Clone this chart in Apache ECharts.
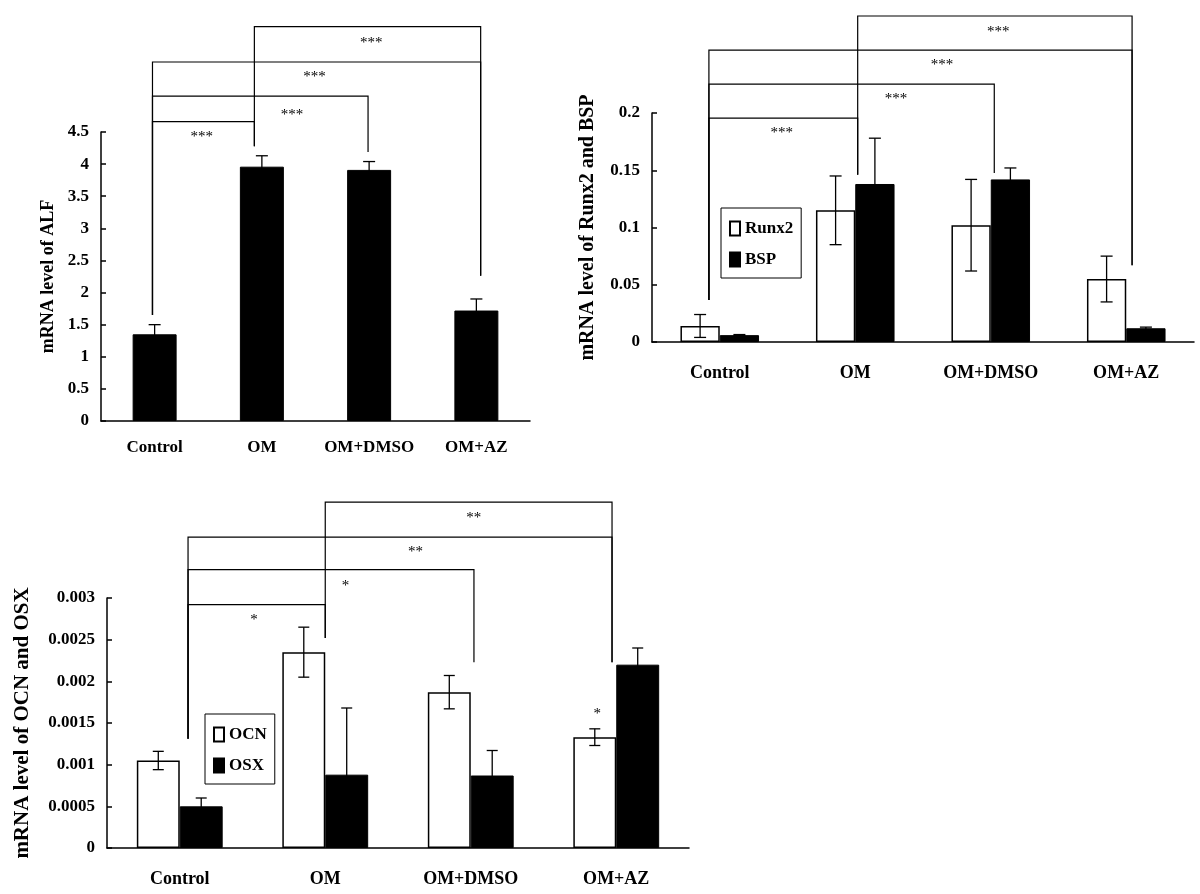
<!DOCTYPE html>
<html>
<head>
<meta charset="utf-8">
<script src="https://cdn.jsdelivr.net/npm/echarts@6/dist/echarts.min.js"></script>
<style>
html,body{margin:0;padding:0;background:#fff;}
#chart{width:1200px;height:894px;}
</style>
</head>
<body>
<div id="chart"></div>
<script>
// ---------- DATA ----------
const categories = ['Control', 'OM', 'OM+DMSO', 'OM+AZ'];

// Panel A: ALF
const alfValues = [1.35, 3.96, 3.91, 1.72];
const alfErrors = [0.15, 0.17, 0.13, 0.18];
const alfTicks = [0, 0.5, 1, 1.5, 2, 2.5, 3, 3.5, 4, 4.5];

// Panel B: Runx2 / BSP
const runx2Values = [0.014, 0.115, 0.102, 0.055];
const runx2Errors = [0.010, 0.030, 0.040, 0.020];
const bspValues = [0.006, 0.138, 0.142, 0.012];
const bspErrors = [0.0005, 0.040, 0.010, 0.001];
const runxTicks = [0, 0.05, 0.1, 0.15, 0.2];

// Panel C: OCN / OSX
const ocnValues = [0.00105, 0.00235, 0.00187, 0.00133];
const ocnErrors = [0.00011, 0.0003, 0.0002, 0.0001];
const osxValues = [0.0005, 0.00088, 0.00087, 0.0022];
const osxErrors = [0.0001, 0.0008, 0.0003, 0.0002];
const ocnTicks = [0, 0.0005, 0.001, 0.0015, 0.002, 0.0025, 0.003];

// Significance brackets (category index from/to, bracket level in data units)
const alfSigFrom = [1, 0, 0, 0];
const alfSigTo = [3, 3, 2, 1];
const alfSigLevel = [6.14, 5.59, 5.06, 4.66];
const alfDrop = [1.65, 4.28, 4.19, 2.26];
const alfMarks = ['***', '***', '***', '***'];
const alfMarkPos = [2.02, 1.49, 1.28, 0.44];
const alfMarkLevel = [5.89, 5.36, 4.77, 4.42];

const runxSigFrom = [1, 0, 0, 0];
const runxSigTo = [3, 3, 2, 1];
const runxSigLevel = [0.2847, 0.255, 0.2253, 0.1956];
const runxDrop = [0.0367, 0.146, 0.1476, 0.067];
const runxMarks = ['***', '***', '***', '***'];
const runxMarkPos = [2.056, 1.64, 1.30, 0.457];
const runxMarkLevel = [0.2707, 0.2419, 0.2122, 0.1825];

const ocnSigFrom = [1, 0, 0, 0];
const ocnSigTo = [3, 3, 2, 1];
const ocnSigLevel = [0.00415, 0.00373, 0.00334, 0.00292];
const ocnDrop = [0.00131, 0.00252, 0.00223, 0.00223];
const ocnMarks = ['**', '**', '*', '*', '*'];
const ocnMarkPos = [2.02, 1.62, 1.14, 0.51, 2.87];
const ocnMarkLevel = [0.00396, 0.00355, 0.00314, 0.00274, 0.00161];

// ---------- STYLE / LAYOUT ----------
const FONT = "'Liberation Serif', 'Times New Roman', serif";
const alfBracketOffset = [-0.02, -0.07, -0.01, 0.04];
const runxBracketOffset = [-0.08, 0.018, 0.026, 0.043];
const ocnBracketOffset = [0.057, 0, 0.022, -0.029];

function fmt(v) { return String(+(+v).toFixed(5)); }

function makeAxes(gridIndex, ticks, name, nameGap, nameSize, labelFont, catFont, labelMargin, catMargin) {
  const x = {
    type: 'category', gridIndex: gridIndex, data: categories,
    axisLine: { lineStyle: { color: '#000', width: 1.5 } },
    axisTick: { inside: true, length: 5, lineStyle: { color: '#000', width: 1.5 } },
    axisLabel: { interval: 0, color: '#000', fontFamily: FONT, fontWeight: 'bold', fontSize: catFont, margin: catMargin },
    splitLine: { show: false }
  };
  const step = ticks[1] - ticks[0];
  const y = {
    type: 'value', gridIndex: gridIndex, min: ticks[0], max: ticks[ticks.length - 1], interval: step,
    name: name, nameLocation: 'middle', nameRotate: 90, nameGap: nameGap,
    nameTextStyle: { color: '#000', fontFamily: FONT, fontWeight: 'bold', fontSize: nameSize },
    axisLine: { show: true, lineStyle: { color: '#000', width: 1.5 } },
    axisTick: { show: true, inside: true, length: 5, lineStyle: { color: '#000', width: 1.5 } },
    axisLabel: { color: '#000', fontFamily: FONT, fontWeight: 'bold', fontSize: labelFont, margin: labelMargin,
      formatter: function (v) { return fmt(v); } },
    splitLine: { show: false }
  };
  return { x: x, y: y };
}

function errorSeries(name, idx, values, errors, shift, cap) {
  return {
    type: 'custom', name: name, xAxisIndex: idx, yAxisIndex: idx, clip: false, z: 5,
    data: values.map(function (v, i) { return [i, v, v - errors[i], v + errors[i]]; }),
    renderItem: function (params, api) {
      const i = api.value(0);
      const band = api.size([1, 0])[0];
      const top = api.coord([i, api.value(3)]);
      const bot = api.coord([i, api.value(2)]);
      const x = top[0] + shift * band;
      const st = { stroke: '#000', lineWidth: 1.3 };
      return { type: 'group', children: [
        { type: 'line', shape: { x1: x, y1: top[1], x2: x, y2: bot[1] }, style: st },
        { type: 'line', shape: { x1: x - cap / 2, y1: top[1], x2: x + cap / 2, y2: top[1] }, style: st },
        { type: 'line', shape: { x1: x - cap / 2, y1: bot[1], x2: x + cap / 2, y2: bot[1] }, style: st }
      ] };
    }
  };
}

function bracketSeries(name, idx, from, to, level, drop, offset) {
  return {
    type: 'custom', name: name, xAxisIndex: idx, yAxisIndex: idx, clip: false, z: 6,
    data: level.map(function (v, k) { return [from[k], v]; }),
    renderItem: function (params, api) {
      const k = params.dataIndex;
      const a = from[k], b = to[k];
      const band = api.size([1, 0])[0];
      const pa = api.coord([a, level[k]]);
      const pb = api.coord([b, level[k]]);
      const da = api.coord([a, drop[a]]);
      const db = api.coord([b, drop[b]]);
      const xa = pa[0] + offset[a] * band;
      const xb = pb[0] + offset[b] * band;
      return { type: 'polyline', shape: { points: [[xa, da[1]], [xa, pa[1]], [xb, pb[1]], [xb, db[1]]] },
        style: { stroke: '#000', lineWidth: 1.2, fill: null } };
    }
  };
}

function markSeries(name, idx, marks, pos, lvl) {
  return {
    type: 'custom', name: name, xAxisIndex: idx, yAxisIndex: idx, clip: false, z: 7,
    data: lvl.map(function (v, k) { return [0, v]; }),
    renderItem: function (params, api) {
      const k = params.dataIndex;
      const band = api.size([1, 0])[0];
      const p = api.coord([0, lvl[k]]);
      return { type: 'text', style: { text: marks[k], x: p[0] + pos[k] * band, y: p[1],
        align: 'center', verticalAlign: 'middle', fontFamily: FONT, fontSize: 15, fill: '#000' } };
    }
  };
}

const A = makeAxes(0, alfTicks, 'mRNA level of ALF', 44, 18, 17, 17, 12, 18);
const B = makeAxes(1, runxTicks, 'mRNA level of Runx2 and BSP', 54, 20, 17, 18, 12, 22);
const C = makeAxes(2, ocnTicks, 'mRNA level of OCN and OSX', 74, 21, 17, 18, 12, 22);

const whiteBar = { color: '#fff', borderColor: '#000', borderWidth: 1.5 };
const blackBar = { color: '#000', borderColor: '#000', borderWidth: 1 };

const legendText = { color: '#000', fontFamily: FONT, fontWeight: 'bold', fontSize: 17 };

const option = {
  animation: false,
  backgroundColor: '#fff',
  grid: [
    { left: 101, top: 132, width: 429, height: 289 },
    { left: 652, top: 113, width: 542, height: 229 },
    { left: 107, top: 598, width: 582, height: 250 }
  ],
  xAxis: [A.x, B.x, C.x],
  yAxis: [A.y, B.y, C.y],
  legend: [
    { data: ['Runx2', 'BSP'], orient: 'vertical', left: 721, top: 208, selectedMode: false,
      borderColor: '#000', borderWidth: 1, padding: [12, 8, 10, 8], itemGap: 14,
      itemWidth: 10, itemHeight: 14, icon: 'rect', textStyle: legendText },
    { data: ['OCN', 'OSX'], orient: 'vertical', left: 205, top: 714, selectedMode: false,
      borderColor: '#000', borderWidth: 1, padding: [12, 8, 10, 8], itemGap: 14,
      itemWidth: 10, itemHeight: 14, icon: 'rect', textStyle: legendText }
  ],
  series: [
    { type: 'bar', name: 'ALF', xAxisIndex: 0, yAxisIndex: 0, data: alfValues, barWidth: '41%', itemStyle: blackBar },
    errorSeries('errALF', 0, alfValues, alfErrors, 0, 12),
    { type: 'bar', name: 'Runx2', xAxisIndex: 1, yAxisIndex: 1, data: runx2Values, barWidth: '29%', barGap: '0%', itemStyle: whiteBar },
    { type: 'bar', name: 'BSP', xAxisIndex: 1, yAxisIndex: 1, data: bspValues, barWidth: '29%', barGap: '0%', itemStyle: blackBar },
    errorSeries('errRunx2', 1, runx2Values, runx2Errors, -0.145, 12),
    errorSeries('errBSP', 1, bspValues, bspErrors, 0.145, 12),
    { type: 'bar', name: 'OCN', xAxisIndex: 2, yAxisIndex: 2, data: ocnValues, barWidth: '29.5%', barGap: '0%', itemStyle: whiteBar },
    { type: 'bar', name: 'OSX', xAxisIndex: 2, yAxisIndex: 2, data: osxValues, barWidth: '29.5%', barGap: '0%', itemStyle: blackBar },
    errorSeries('errOCN', 2, ocnValues, ocnErrors, -0.1475, 11),
    errorSeries('errOSX', 2, osxValues, osxErrors, 0.1475, 11),
    bracketSeries('sigALF', 0, alfSigFrom, alfSigTo, alfSigLevel, alfDrop, alfBracketOffset),
    bracketSeries('sigRunx', 1, runxSigFrom, runxSigTo, runxSigLevel, runxDrop, runxBracketOffset),
    bracketSeries('sigOCN', 2, ocnSigFrom, ocnSigTo, ocnSigLevel, ocnDrop, ocnBracketOffset),
    markSeries('markALF', 0, alfMarks, alfMarkPos, alfMarkLevel),
    markSeries('markRunx', 1, runxMarks, runxMarkPos, runxMarkLevel),
    markSeries('markOCN', 2, ocnMarks, ocnMarkPos, ocnMarkLevel)
  ]
};

const chart = echarts.init(document.getElementById('chart'), null, { renderer: 'canvas' });
chart.setOption(option);
</script>
</body>
</html>
